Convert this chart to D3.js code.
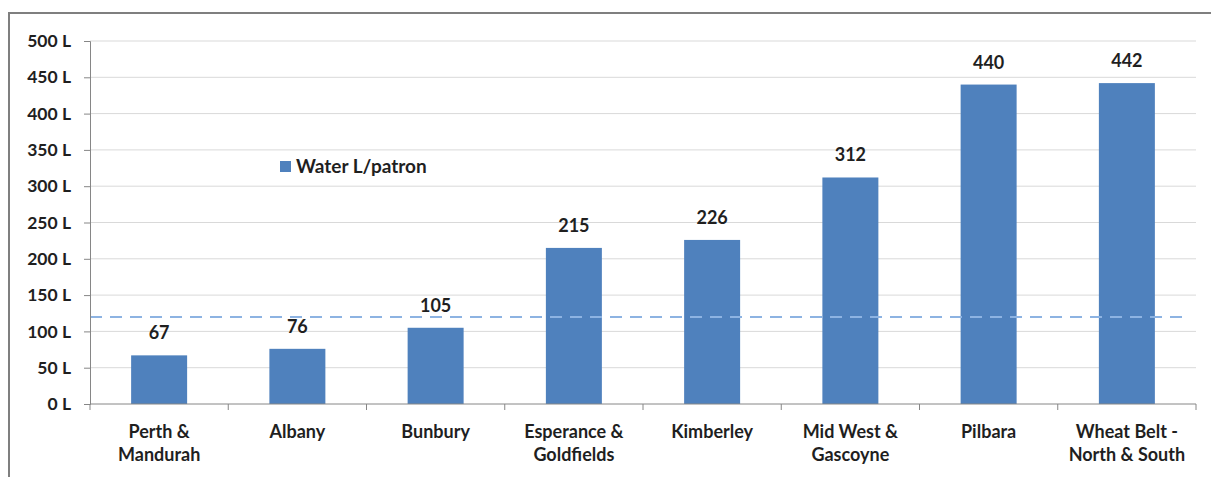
<!DOCTYPE html>
<html>
<head>
<meta charset="utf-8">
<script src="https://cdn.jsdelivr.net/npm/d3@7"></script>
<style>
  html, body { margin: 0; padding: 0; background: #fff; }
  svg { display: block; }
  text { font-family: Lato, "Open Sans", sans-serif; font-weight: bold; fill: #1f1f1f; }
</style>
</head>
<body>
<svg id="chart" width="1211" height="477"></svg>
<script>
// Water use per patron by region
const regions = [
  ["Perth &", "Mandurah"],
  ["Albany"],
  ["Bunbury"],
  ["Esperance &", "Goldfields"],
  ["Kimberley"],
  ["Mid West &", "Gascoyne"],
  ["Pilbara"],
  ["Wheat Belt -", "North & South"]
];
const waterPerPatron = [67, 76, 105, 215, 226, 312, 440, 442];
const benchmark = 120;
const yTicks = [0, 50, 100, 150, 200, 250, 300, 350, 400, 450, 500];
const seriesName = "Water L/patron";

const svg = d3.select("#chart");
const W = 1211, H = 477;
const margin = { left: 90, right: 15, top: 41, bottom: 73 };
const x0 = margin.left, x1 = W - margin.right;
const yTop = margin.top, yBottom = H - margin.bottom;

// frame around the chart
svg.append("rect").attr("x", 9).attr("y", 13).attr("width", W + 10).attr("height", H + 10)
  .attr("fill", "#fff").attr("stroke", "#7f7f7f").attr("stroke-width", 2);

const x = d3.scaleBand().domain(d3.range(regions.length)).range([x0, x1]).paddingInner(0.595).paddingOuter(0.2975);
const xOuter = d3.scaleBand().domain(d3.range(regions.length)).range([x0, x1]);
const y = d3.scaleLinear().domain([0, 500]).range([yBottom, yTop]);

// gridlines
svg.append("g").selectAll("line").data(yTicks.filter(d => d > 0)).join("line")
  .attr("x1", x0).attr("x2", x1)
  .attr("y1", d => y(d)).attr("y2", d => y(d))
  .attr("stroke", "#d9d9d9").attr("stroke-width", 1);

// bars
svg.append("g").selectAll("rect").data(waterPerPatron).join("rect")
  .attr("x", (d, i) => x(i)).attr("width", x.bandwidth())
  .attr("y", d => y(d)).attr("height", d => y(0) - y(d))
  .attr("fill", "#4f81bd");

// benchmark dashed line
svg.append("line")
  .attr("x1", x0).attr("x2", x1 - 8)
  .attr("y1", y(benchmark)).attr("y2", y(benchmark))
  .attr("stroke", "#8db3e2").attr("stroke-width", 2)
  .attr("stroke-dasharray", "12,8");

// value labels
svg.append("g").selectAll("text").data(waterPerPatron).join("text")
  .attr("x", (d, i) => x(i) + x.bandwidth() / 2)
  .attr("y", d => y(d) - 16)
  .attr("text-anchor", "middle")
  .attr("font-size", 18)
  .text(d => d);

// y axis
const yAxis = svg.append("g").attr("transform", `translate(${x0},0)`)
  .call(d3.axisLeft(y).tickValues(yTicks).tickSize(6).tickPadding(13).tickFormat(d => d + " L"));
yAxis.select(".domain").attr("stroke", "#868686");
yAxis.selectAll(".tick line").attr("stroke", "#868686");
yAxis.selectAll("text").attr("font-size", 17.5).attr("fill", "#1f1f1f")
  .style("font-family", "Lato, 'Open Sans', sans-serif").style("font-weight", "bold");

// x axis
const xAxis = svg.append("g").attr("transform", `translate(0,${yBottom})`);
xAxis.append("line").attr("x1", x0).attr("x2", x1).attr("y1", 0).attr("y2", 0).attr("stroke", "#868686");
xAxis.selectAll("line.tk").data(d3.range(regions.length + 1)).join("line").attr("class", "tk")
  .attr("x1", i => i < regions.length ? xOuter(i) : x1)
  .attr("x2", i => i < regions.length ? xOuter(i) : x1)
  .attr("y1", 0).attr("y2", 6).attr("stroke", "#868686");

const labels = xAxis.selectAll("text.cat").data(regions).join("text").attr("class", "cat")
  .attr("text-anchor", "middle")
  .attr("font-size", 18)
  .attr("transform", (d, i) => `translate(${xOuter(i) + xOuter.bandwidth() / 2},34)`);
labels.selectAll("tspan").data(d => d).join("tspan")
  .attr("x", 0).attr("dy", (d, i) => i === 0 ? 0 : 23).text(d => d);

// legend
const legend = svg.append("g").attr("transform", "translate(280,161)");
legend.append("rect").attr("width", 11).attr("height", 11).attr("fill", "#4f81bd");
legend.append("text").attr("x", 16).attr("y", 12).attr("font-size", 19).text(seriesName);
</script>
</body>
</html>
